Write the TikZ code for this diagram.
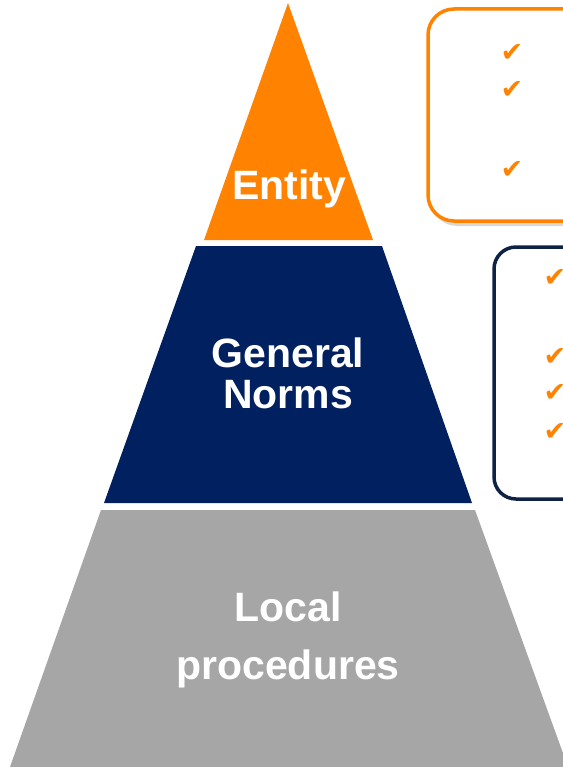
\documentclass[tikz,border=0pt]{standalone}
\usepackage{fontspec}
\setmainfont{Liberation Sans}
\newfontfamily\symfont{DejaVu Sans}

\definecolor{pyrorange}{HTML}{FF8200}
\definecolor{pyrnavy}{HTML}{002060}
\definecolor{pyrgray}{HTML}{A6A6A6}
\definecolor{boxnavy}{HTML}{0E2245}

\begin{document}
\begin{tikzpicture}[x=1pt, y=-1pt,
    label/.style = {text=white, font=\bfseries\fontsize{41}{41}\selectfont,
                    align=center, inner sep=0pt},
    infobox/.style = {rounded corners=26pt, line width=3.5pt, fill=white},
    tick/.style = {text=pyrorange, font=\symfont\fontsize{27}{27}\selectfont,
                   inner sep=0pt}
    ]
\useasboundingbox (0,0) rectangle (562,767);

% pyramid levels
\fill[pyrorange] (288,3) -- (373,240) -- (204,240) -- cycle;
\fill[pyrnavy] (196,246) -- (382,246) -- (472,503) -- (104,503) -- cycle;
\fill[pyrgray] (101,510) -- (475,510) -- (568,767) -- (10,767) -- cycle;

\node[label, anchor=base] (entity) at (289,200) {Entity};
\node[label] (general) at (288,373) {General\\Norms};
\node[label, font=\bfseries\fontsize{41}{58}\selectfont] (local) at (288,640) {Local\\procedures};

% side boxes
\fill[black!30, opacity=0.5, rounded corners=26pt] (431,13) rectangle (640,226);
\draw[infobox, draw=pyrorange] (428,9) rectangle (640,221);
\draw[infobox, draw=boxnavy, rounded corners=22pt] (494,247) rectangle (640,499);

\foreach \y [count=\i] in {53,90,170}
  \node[tick] (otick\i) at (512,\y) {✔};
\foreach \y [count=\i] in {278,357,393,432}
  \node[tick] (ntick\i) at (555,\y) {✔};
\end{tikzpicture}
\end{document}
